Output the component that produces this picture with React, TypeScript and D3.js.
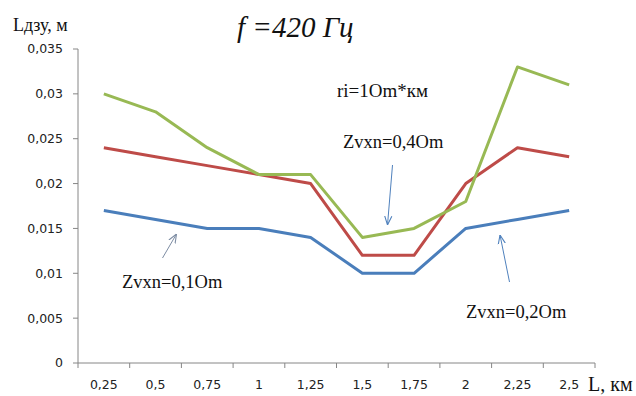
import React from "react";
import * as d3 from "d3";

const categories = ["0,25", "0,5", "0,75", "1", "1,25", "1,5", "1,75", "2", "2,25", "2,5"];
const zvxn01 = [0.017, 0.016, 0.015, 0.015, 0.014, 0.01, 0.01, 0.015, 0.016, 0.017];
const zvxn02 = [0.024, 0.023, 0.022, 0.021, 0.02, 0.012, 0.012, 0.02, 0.024, 0.023];
const zvxn04 = [0.03, 0.028, 0.024, 0.021, 0.021, 0.014, 0.015, 0.018, 0.033, 0.031];
const yTicks = [0, 0.005, 0.01, 0.015, 0.02, 0.025, 0.03, 0.035];
const yTickLabels = ["0", "0,005", "0,01", "0,015", "0,02", "0,025", "0,03", "0,035"];

const W = 636, H = 396;
const left = 78, right = 595, top = 49, bottom = 363;

export default function App() {
  const x = d3.scaleBand<string>().domain(categories).range([left, right]);
  const y = d3.scaleLinear().domain([0, 0.035]).range([bottom, top]);
  const cx = (i: number) => (x(categories[i]) as number) + x.bandwidth() / 2;
  const line = d3.line<number>().x((_, i) => cx(i)).y((d) => y(d));
  const series = [
    { data: zvxn01, color: "#4a7ebb" },
    { data: zvxn02, color: "#be4b48" },
    { data: zvxn04, color: "#98b954" },
  ];
  const axisColor = "#868686";
  const tickFont = "'DejaVu Sans', sans-serif";
  const serif = "'Liberation Serif', 'Times New Roman', serif";
  const bandEdges = categories.map((c) => x(c) as number).concat([right]);
  return (
    <svg width={W} height={H} style={{ position: "absolute", left: 0, top: 0, background: "#fff" }}>
      <defs>
        <marker id="ah" viewBox="0 0 10 10" refX="10" refY="5" markerWidth="9" markerHeight="9" orient="auto" markerUnits="userSpaceOnUse">
          <path d="M0,1 L10,5 L0,9" fill="none" stroke="context-stroke" strokeWidth="1.2" />
        </marker>
        <marker id="ahb" viewBox="0 0 10 10" refX="10" refY="5" markerWidth="9" markerHeight="9" orient="auto" markerUnits="userSpaceOnUse">
          <path d="M0,1 L10,5 L0,9" fill="none" stroke="#4f81bd" strokeWidth="1.2" />
        </marker>
        <marker id="ahg" viewBox="0 0 10 10" refX="10" refY="5" markerWidth="9" markerHeight="9" orient="auto" markerUnits="userSpaceOnUse">
          <path d="M0,1 L10,5 L0,9" fill="none" stroke="#7d8ca3" strokeWidth="1.2" />
        </marker>
      </defs>
      {/* axes */}
      <line x1={left} x2={left} y1={top} y2={bottom} stroke={axisColor} strokeWidth={1} />
      <line x1={left} x2={right} y1={bottom} y2={bottom} stroke={axisColor} strokeWidth={1} />
      {yTicks.map((t, i) => (
        <g key={"y" + i}>
          <line x1={left - 5} x2={left} y1={y(t)} y2={y(t)} stroke={axisColor} />
          <text x={63} y={y(t)} dy="0.35em" textAnchor="end" fontFamily={tickFont} fontSize={12.5} fill="#222">
            {yTickLabels[i]}
          </text>
        </g>
      ))}
      {bandEdges.map((e, i) => (
        <line key={"xt" + i} x1={e} x2={e} y1={bottom} y2={bottom + 5} stroke={axisColor} />
      ))}
      {categories.map((c, i) => (
        <text key={"xl" + i} x={cx(i)} y={389} textAnchor="middle" fontFamily={tickFont} fontSize={12.5} fill="#222">
          {c}
        </text>
      ))}
      {/* series */}
      {series.map((s, i) => (
        <path key={"s" + i} d={line(s.data) || ""} fill="none" stroke={s.color} strokeWidth={3} strokeLinejoin="round" />
      ))}
      {/* arrows */}
      <line x1={162.5} y1={258} x2={176.5} y2={234} stroke="#7d8ca3" strokeWidth={1} markerEnd="url(#ahg)" />
      <line x1={392.5} y1={165} x2={387.5} y2={225} stroke="#4f81bd" strokeWidth={1} markerEnd="url(#ahb)" />
      <line x1={509.5} y1={282} x2={500} y2={235} stroke="#4f81bd" strokeWidth={1} markerEnd="url(#ahb)" />
      {/* texts */}
      <text x={13} y={31} fontFamily={serif} fontSize={18} fill="#111">Lдзу, м</text>
      <text x={237} y={37} fontFamily={serif} fontStyle="italic" fontSize={29} fill="#111">f =420 Гц</text>
      <text x={337} y={97} fontFamily={serif} fontSize={19} fill="#111">ri=1Om*км</text>
      <text x={343} y={148} fontFamily={serif} fontSize={18.5} fill="#111">Zvxn=0,4Om</text>
      <text x={122} y={288} fontFamily={serif} fontSize={18.5} fill="#111">Zvxn=0,1Om</text>
      <text x={466} y={318} fontFamily={serif} fontSize={18.5} fill="#111">Zvxn=0,2Om</text>
      <text x={588} y={391} fontFamily={serif} fontSize={20} fill="#111">L, км</text>
    </svg>
  );
}
